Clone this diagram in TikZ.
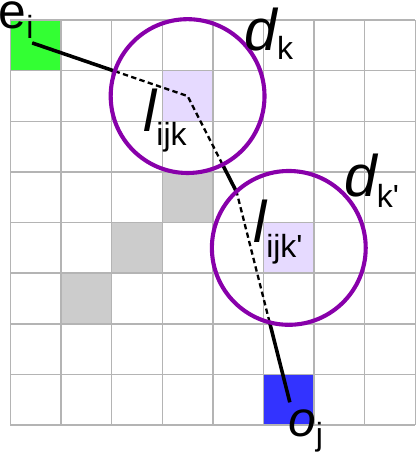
\documentclass[tikz,border=0pt]{standalone}
\usepackage{fontspec}
\setmainfont{Liberation Sans}
\usetikzlibrary{calc}
\definecolor{gridgray}{HTML}{B4B4B4}
\definecolor{cellgray}{HTML}{CCCCCC}
\definecolor{startgreen}{HTML}{33FF33}
\definecolor{endblue}{HTML}{3333FF}
\definecolor{ringpurple}{HTML}{8800AA}
\definecolor{hitpurple}{HTML}{E6DAFF}
\tikzset{
    cellline/.style={draw=gridgray, line width=0.8pt},
    ring/.style={draw=ringpurple, line width=2.3pt, circle, minimum size=3.04cm, inner sep=0pt},
    route/.style={line width=2pt},
    hidden route/.style={line width=1.3pt, dash pattern=on 3pt off 1.9pt},
    tag/.style={anchor=base west, inner sep=0pt},
}
\newcommand{\sublbl}[4]{{\fontsize{#1}{#1}\selectfont #2}\raisebox{-#4}{\fontsize{18}{18}\selectfont #3}}

\begin{document}
\begin{tikzpicture}
        \useasboundingbox (-0.2075,-0.593) rectangle (8.014,8.399);

        % cells
        \fill[startgreen] (0,7) rectangle ++(1,1);
        \fill[endblue] (5,0) rectangle ++(1,1);
        \fill[hitpurple] (3,6) rectangle ++(1,1);
        \fill[hitpurple] (5,3) rectangle ++(1,1);
        \foreach \c/\r in {3/4,2/3,1/2}
            \fill[cellgray] (\c,\r) rectangle ++(1,1);
        \draw[cellline] (0,0) grid (8,8);

        % discs
        \coordinate (dkc) at (3.5,6.5);
        \coordinate (dkpc) at (5.5,3.5);

        % route
        \coordinate (src) at (0.43,7.55);
        \coordinate (turn) at (4.47,4.6);
        \coordinate (dst) at (5.52,0.45);
        \draw[hidden route] (src) -- (dkc) -- (turn) -- (dst);
        \begin{scope}[even odd rule]
            \clip (-0.3,-0.7) rectangle (8.1,8.5)
                (dkc) circle (1.52) (dkpc) circle (1.52);
            \draw[route] (src) -- (dkc) -- (turn) -- (dst);
        \end{scope}

        \node[ring] (dk) at (dkc) {};
        \node[ring] (dkp) at (dkpc) {};

        % labels
        \node[tag] (ei) at (-0.24,7.84) {\sublbl{28}{e}{i}{5.6pt}};
        \node[tag] (dklab) at (4.615,7.41) {\sublbl{33}{\itshape d}{k}{5.6pt}};
        \node[tag] (dkplab) at (6.59,4.506) {\sublbl{33}{\itshape d}{k\textquotesingle}{6pt}};
        \node[tag] (lijk) at (2.62,5.81) {\sublbl{33}{\itshape l}{ijk}{8.4pt}};
        \node[tag] (lijkp) at (4.79,3.597) {\sublbl{33}{\itshape l}{ijk\textquotesingle}{8.4pt}};
        \node[tag] (oj) at (5.48,-0.237) {\sublbl{28}{\itshape o}{j}{5pt}};
    \end{tikzpicture}
\end{document}
